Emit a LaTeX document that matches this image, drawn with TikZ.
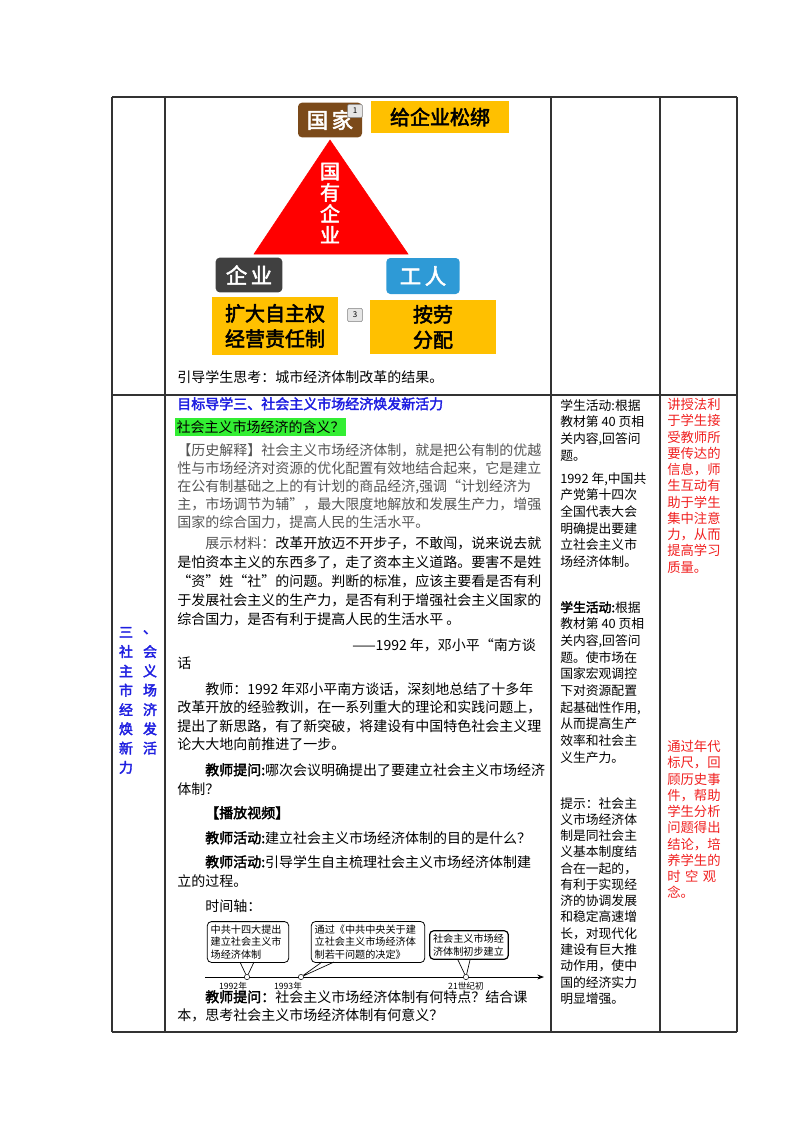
\documentclass[tikz,border=0pt]{standalone}
\usepackage{fontspec}
\setmainfont{Noto Sans CJK SC}[AutoFakeBold=2.5]
\usetikzlibrary{arrows.meta}
\definecolor{brownbox}{HTML}{7B4A1A}
\definecolor{orangebox}{HTML}{FFC000}
\definecolor{greybox}{HTML}{404040}
\definecolor{bluebox}{HTML}{2E9AD6}
\definecolor{titleblue}{HTML}{1F1FE0}
\definecolor{hl}{HTML}{33EE33}
\definecolor{txtgray}{HTML}{555555}
\definecolor{redtxt}{HTML}{F02020}
\tikzset{
  x=0.75pt,y=-0.75pt,
  grid/.style={line width=0.9pt,black!80},
  par/.style={anchor=north west,inner sep=0pt,align=left},
  mainf/.style={font=\fontsize{10.5}{13.6}\selectfont},
  colf/.style={font=\fontsize{9.6}{12.5}\selectfont},
  redf/.style={font=\fontsize{10}{12.2}\selectfont,text=redtxt},
  box/.style={rounded corners=3pt,inner sep=0pt,text=white,font=\fontsize{16}{18}\bfseries\selectfont},
  obox/.style={fill=orangebox,inner sep=0pt,font=\fontsize{15}{19}\bfseries\selectfont,align=center},
  badge/.style={draw=gray,fill=gray!20,rounded corners=1pt,minimum width=11pt,minimum height=10pt,inner sep=0pt,font=\fontsize{6}{6}\selectfont},
  tbox/.style={draw,rounded corners=3pt,line width=0.6pt,inner sep=2.5pt,align=left,font=\fontsize{7.6}{9.3}\selectfont},
  vch/.style={inner sep=0pt,text=titleblue,font=\fontsize{10.5}{12}\bfseries\selectfont}
}
\begin{document}
\begin{tikzpicture}
\useasboundingbox (0,0) rectangle (800,1132);
% table grid
\draw[grid] (112,97) -- (737,97) (112,395) -- (737,395) (112,1032) -- (737,1032);
\draw[grid] (112,97) -- (112,1032) (165,97) -- (165,1032) (551,97) -- (551,1032) (660,97) -- (660,1032) (737,97) -- (737,1032);

% ---- top image ----
\node[box,fill=brownbox,minimum width=48pt,minimum height=26pt] (guojia) at (330,120) {国\,家};
\node[badge] (b1) at (355,111) {1};
\node[obox,minimum width=103pt,minimum height=24pt] (song) at (440,117) {给企业松绑};
\draw[red,fill=red] (330,140) coordinate (apex) -- (408,254) coordinate (br) -- (254,254) coordinate (bl) -- cycle;
\node[inner sep=0pt,text=white,align=center,font=\fontsize{15}{16}\bfseries\selectfont] (gyqy) at (330,203) {国\\有\\企\\业};
\node[box,fill=greybox,minimum width=50pt,minimum height=26pt] (qiye) at (249,275) {企\,业};
\node[box,fill=bluebox,minimum width=55pt,minimum height=27pt] (gongren) at (423,276) {工\,人};
\node[obox,text=black,minimum width=95pt,minimum height=43pt] (kuoda) at (275,326) {扩大自主权\\经营责任制};
\node[badge] (b3) at (355,315) {3};
\node[obox,text=black,minimum width=94pt,minimum height=41pt] (anlao) at (433,327) {按劳\\分配};
\node[par,mainf] (cap) at (177,370) {引导学生思考：城市经济体制改革的结果。};

% ---- left column vertical title ----
\foreach \c/\r/\col in {三/1/1,、/1/2,社/2/1,会/2/2,主/3/1,义/3/2,市/4/1,场/4/2,经/5/1,济/5/2,焕/6/1,发/6/2,新/7/1,活/7/2,力/8/1}{
  \node[vch] (v\r-\col) at ({102+24*\col},{613+19.3*\r}) {\c};
}

% ---- middle column ----
\node[par,text=titleblue,font=\fontsize{10.5}{13}\bfseries\selectfont] (t3) at (177,397) {目标导学三、社会主义市场经济焕发新活力};
\node[anchor=west,fill=hl,inner sep=1pt,minimum height=14pt,font=\fontsize{10.5}{13}\selectfont] (hy) at (175,427) {社会主义市场经济的含义？};
\node[par,mainf,text=txtgray,font=\fontsize{10.5}{13.6}\selectfont] (p1) at (177,443) {【历史解释】社会主义市场经济体制，就是把公有制的优越\\性与市场经济对资源的优化配置有效地结合起来，它是建立\\在公有制基础之上的有计划的商品经济,强调“计划经济为\\主，市场调节为辅”，最大限度地解放和发展生产力，增强\\国家的综合国力，提高人民的生活水平。};
\node[par,font=\fontsize{10.5}{14.3}\selectfont] (p2) at (177,536) {\phantom{展示}\textcolor{txtgray}{展示材料：}改革开放迈不开步子，不敢闯，说来说去就\\是怕资本主义的东西多了，走了资本主义道路。要害不是姓\\“资”姓“社”的问题。判断的标准，应该主要看是否有利\\于发展社会主义的生产力，是否有利于增强社会主义国家的\\综合国力，是否有利于提高人民的生活水平 。};
\node[par,mainf] (src) at (352,638) {——1992 年，邓小平“南方谈};
\node[par,mainf] (src2) at (177,657) {话};
\node[par,font=\fontsize{10.5}{13.9}\selectfont] (p3) at (177,682) {\phantom{教师}教师：1992 年邓小平南方谈话，深刻地总结了十多年\\改革开放的经验教训，在一系列重大的理论和实践问题上，\\提出了新思路，有了新突破，将建设有中国特色社会主义理\\论大大地向前推进了一步。};
\node[par,font=\fontsize{10.5}{14.3}\selectfont] (p4) at (177,763) {\phantom{教师}\textbf{教师提问:}哪次会议明确提出了要建立社会主义市场经济\\体制？};
\node[par,mainf] (p5) at (177,806) {\phantom{教师}\textbf{【播放视频】}};
\node[par,mainf] (p6) at (177,831) {\phantom{教师}\textbf{教师活动:}建立社会主义市场经济体制的目的是什么？};
\node[par,font=\fontsize{10.5}{14.3}\selectfont] (p7) at (177,855) {\phantom{教师}\textbf{教师活动:}引导学生自主梳理社会主义市场经济体制建\\立的过程。};
\node[par,mainf] (p8) at (177,899) {\phantom{教师}时间轴：};

% timeline
\coordinate (axs) at (205,977);
\coordinate (axe) at (544,977);
\draw[-{Stealth[length=5pt]},line width=0.6pt] (axs) -- (axe);
\node[draw,circle,fill=white,inner sep=0pt,minimum size=4pt] (d1) at (247,977) {};
\node[draw,circle,fill=white,inner sep=0pt,minimum size=4pt] (d2) at (301,977) {};
\node[draw,circle,fill=white,inner sep=0pt,minimum size=4pt] (d3) at (466,977) {};
\node[tbox,text width=56pt] (tb1) at (248,942) {中共十四大提出\\建立社会主义市\\场经济体制};
\node[tbox,text width=80pt] (tb2) at (368,942) {通过《中共中央关于建\\立社会主义市场经济体\\制若干问题的决定》};
\node[tbox,text width=54pt,line width=0.9pt] (tb3) at (469,945) {社会主义市场经\\济体制初步建立};
\draw[line width=0.5pt] (240,962) -- (d1) -- (254,962);
\draw[line width=0.5pt] (322,962) -- (d2) -- (334,962);
\draw[line width=0.5pt] (458,960) -- (d3) -- (470,960);
\node[inner sep=0pt,font=\fontsize{6.5}{7}\selectfont] (l1) at (233,986) {1992年};
\node[inner sep=0pt,font=\fontsize{6.5}{7}\selectfont] (l2) at (288,986) {1993年};
\node[inner sep=0pt,font=\fontsize{6.5}{7}\selectfont] (l3) at (466,986) {21世纪初};
\node[par,font=\fontsize{10.5}{13.6}\selectfont] (p9) at (177,990) {\phantom{教师}\textbf{教师提问：}社会主义市场经济体制有何特点？结合课\\本，思考社会主义市场经济体制有何意义？};

% ---- column 3 ----
\node[par,colf] (c1) at (560,399) {学生活动:根据\\教材第 40 页相\\关内容,回答问\\题。};
\node[par,colf] (c2) at (560,472) {1992 年,中国共\\产党第十四次\\全国代表大会\\明确提出要建\\立社会主义市\\场经济体制。};
\node[par,colf] (c3) at (560,601) {\textbf{学生活动:}根据\\教材第 40 页相\\关内容,回答问\\题。使市场在\\国家宏观调控\\下对资源配置\\起基础性作用,\\从而提高生产\\效率和社会主\\义生产力。};
\node[par,font=\fontsize{9.6}{12.2}\selectfont] (c4) at (560,797) {提示：社会主\\义市场经济体\\制是同社会主\\义基本制度结\\合在一起的，\\有利于实现经\\济的协调发展\\和稳定高速增\\长，对现代化\\建设有巨大推\\动作用，使中\\国的经济实力\\明显增强。};

% ---- column 4 ----
\node[par,redf] (r1) at (667,398) {讲授法利\\于学生接\\受教师所\\要传达的\\信息，师\\生互动有\\助于学生\\集中注意\\力，从而\\提高学习\\质量。};
\node[par,redf] (r2) at (667,740) {通过年代\\标尺，回\\顾历史事\\件，帮助\\学生分析\\问题得出\\结论，培\\养学生的\\时\,\,空\,\,观\\念。};
\end{tikzpicture}
\end{document}
